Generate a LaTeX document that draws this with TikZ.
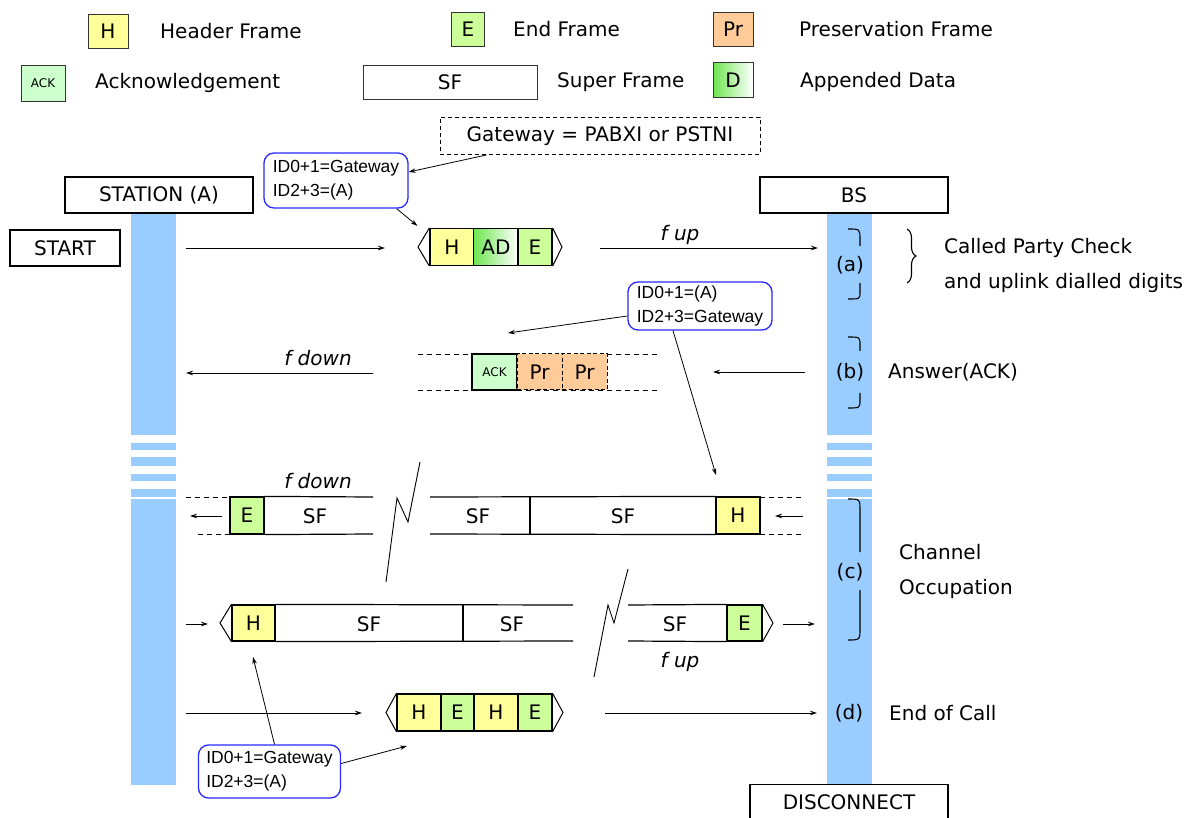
\documentclass[tikz,border=0pt]{standalone}
\usepackage{fontspec}
\setmainfont{DejaVu Sans}
\newfontfamily\idfont{Liberation Sans}
\usetikzlibrary{arrows.meta,decorations.pathreplacing,shapes.misc}
\definecolor{yel}{RGB}{255,255,153}
\definecolor{grn}{RGB}{204,255,153}
\definecolor{ackc}{RGB}{204,255,204}
\definecolor{org}{RGB}{255,204,153}
\definecolor{barc}{RGB}{153,204,255}
\definecolor{dgrn}{RGB}{110,230,80}
\definecolor{idblue}{RGB}{40,40,255}
\tikzset{
  lbl/.style={font=\fontsize{20}{23}\selectfont, inner sep=0pt},
  itl/.style={font=\fontsize{20}{23}\selectfont\itshape, inner sep=0pt},
  cell/.style={draw, line width=1.2pt, inner sep=0pt, minimum height=37pt, font=\fontsize{20}{23}\selectfont},
  lgcell/.style={draw=black!80, line width=0.8pt, inner sep=0pt, font=\fontsize{20}{23}\selectfont},
  titlebox/.style={draw, line width=1.1pt, inner sep=0pt, minimum height=36pt, font=\fontsize{20}{23}\selectfont},
  idbox/.style={draw=idblue, line width=1.3pt, rounded corners=10pt, inner sep=0pt, align=left, font=\idfont\fontsize{17.5}{24}\selectfont},
  arr/.style={line width=0.8pt, -{Stealth[length=7pt,width=4.5pt]}},
  fline/.style={line width=1.2pt},
  dline/.style={line width=0.9pt, dash pattern=on 5pt off 4pt},
  brk/.style={line width=1.1pt},
  bar/.style={fill=barc},
}
\begin{document}
\begin{tikzpicture}[x=1pt,y=-1pt]
\clip (0,0) rectangle (1187,818);
\fill[white] (0,0) rectangle (1187,818);

% ---------- legend ----------
\node[lgcell, fill=yel, minimum width=40pt, minimum height=34pt] (lgH) at (108,31) {H};
\node[lbl, anchor=west] (lgHt) at (160,31) {Header Frame};
\node[lgcell, fill=grn, minimum width=33pt, minimum height=34pt] (lgE) at (468,29) {E};
\node[lbl, anchor=west] (lgEt) at (513,29) {End Frame};
\node[lgcell, fill=org, minimum width=40pt, minimum height=34pt] (lgP) at (733,29) {Pr};
\node[lbl, anchor=west] (lgPt) at (799,29) {Preservation Frame};
\node[lgcell, fill=ackc, minimum width=44pt, minimum height=36pt, font=\fontsize{12}{14}\selectfont] (lgA) at (43,83) {ACK};
\node[lbl, anchor=west] (lgAt) at (95,83) {Acknowledgement};
\node[lgcell, minimum width=174pt, minimum height=34pt] (lgS) at (450,82) {SF};
\node[lbl, anchor=west] (lgSt) at (557,82) {Super Frame};
\node[lgcell, left color=dgrn, right color=white, minimum width=40pt, minimum height=35pt] (lgD) at (733,80) {D};
\node[lbl, anchor=west] (lgDt) at (800,82) {Appended Data};

% ---------- life lines ----------
\fill[bar] (131,213) rectangle (176,435);
\fill[bar] (131,443) rectangle (176,450);
\fill[bar] (131,457) rectangle (176,466);
\fill[bar] (131,474) rectangle (176,481);
\fill[bar] (131,489) rectangle (176,497);
\fill[bar] (131,499) rectangle (176,785);
\fill[bar] (827,213) rectangle (872,435);
\fill[bar] (827,443) rectangle (872,450);
\fill[bar] (827,457) rectangle (872,466);
\fill[bar] (827,474) rectangle (872,481);
\fill[bar] (827,489) rectangle (872,497);
\fill[bar] (827,499) rectangle (872,784);

\node[titlebox, fill=white, minimum width=188pt] (st) at (159,195) {STATION (A)};
\node[titlebox, fill=white, minimum width=188pt] (bs) at (854,195) {BS};
\node[titlebox, fill=white, minimum width=110pt] (start) at (65,248) {START};
\node[titlebox, fill=white, minimum width=198pt, minimum height=42pt, anchor=north] (disc) at (849,784) {};
\node[lbl] (disct) at (849,802) {DISCONNECT};

% ---------- gateway note ----------
\node[draw, line width=0.9pt, dash pattern=on 4pt off 3pt, minimum width=320pt, minimum height=37pt, lbl] (gw) at (600,136) {Gateway = PABXI or PSTNI};
\node[idbox, minimum width=144pt, minimum height=55pt] (id1) at (336,180.5) {ID0+1=Gateway\\ID2+3=(A)};
\draw[arr] ([xshift=47pt]gw.south west) -- ([yshift=8.5pt]id1.east);

% ---------- row a ----------
\node[cell, fill=yel, minimum width=44pt] (a1) at (452,247) {H};
\node[cell, left color=dgrn, right color=white, minimum width=45pt] (a2) at (496,247) {AD};
\node[cell, fill=grn, minimum width=34pt] (a3) at (535,247) {E};
\draw[line width=1pt] (a1.north west) -- (418,247) -- (a1.south west);
\draw[line width=1pt] (a3.north east) -- (562,247) -- (a3.south east);
\draw[arr] ([xshift=-12pt]id1.south east) -- ([xshift=-12pt,yshift=2pt]a1.north west);
\coordinate (a0) at (186,248);
\coordinate (a4) at (385,248);
\draw[arr] (a0) -- (a4);
\coordinate (a5) at (600,248);
\coordinate (a6) at (818,248);
\draw[arr] (a5) -- (a6);
\node[itl] (fup1) at (680,235) {f up};
\draw[brk] (848,229) .. controls (860,229) .. (860,240) -- (860,246);
\draw[brk] (860,283) -- (860,292) .. controls (860,299) .. (848,299);
\node[lbl] (la) at (850,265) {(a)};
\draw[brk, decorate, decoration={brace, amplitude=9pt}] (907,229) -- (907,283);
\node[lbl, anchor=west] (cpc) at (944,248) {Called Party Check};
\node[lbl, anchor=west] (uld) at (944,283) {and uplink dialled digits};

% ---------- row b ----------
\node[idbox, minimum width=144pt, minimum height=48pt] (id2) at (700,306) {ID0+1=(A)\\ID2+3=Gateway};
\coordinate (b7) at (508,333);
\draw[arr] ([yshift=-10pt]id2.west) -- (b7);
\coordinate (b8) at (716,475);
\draw[arr] ([xshift=-27pt]id2.south) -- (b8);
\draw[dline] (418,354) -- (658,354);
\draw[dline] (418,390) -- (658,390);
\node[cell, fill=ackc, minimum width=45pt, minimum height=36pt, font=\fontsize{12}{14}\selectfont] (b1) at (494.5,372) {ACK};
\node[cell, fill=org, dash pattern=on 4pt off 2.5pt, line width=1pt, minimum width=45pt, minimum height=36pt] (b2) at (539.5,372) {Pr};
\node[cell, fill=org, dash pattern=on 4pt off 2.5pt, line width=1pt, minimum width=45pt, minimum height=36pt] (b3) at (584.5,372) {Pr};
\coordinate (b5) at (373,373);
\coordinate (b6) at (186,373);
\draw[arr] (b5) -- (b6);
\node[itl] (fdn1) at (318,358) {f down};
\coordinate (b9) at (805,372);
\coordinate (b10) at (713,372);
\draw[arr] (b9) -- (b10);
\draw[brk] (848,337) .. controls (860,337) .. (860,345) -- (860,351);
\draw[brk] (860,393) -- (860,400) .. controls (860,408) .. (848,408);
\node[lbl] (lb) at (850,372) {(b)};
\node[lbl, anchor=west] (ans) at (888,372) {Answer(ACK)};

% ---------- row c1 (down) ----------
\draw[dline] (186,497) -- (230,497);
\draw[dline] (198,534) -- (230,534);
\draw[dline] (760,497) -- (803,497);
\draw[dline] (760,534) -- (803,534);
\node[cell, fill=grn, minimum width=34pt] (c1e) at (247,515.5) {E};
\draw[fline] (c1e.north east) -- (373,497);
\draw[fline] (c1e.south east) -- (373,534);
\node[lbl] (c1s1) at (315,516) {SF};
\draw[line width=0.9pt] (420,462) -- (408,522) -- (397,498) -- (386,582);
\node[cell, fill=yel, minimum width=44pt] (c1h) at (738,515.5) {H};
\draw[fline] (430,497) -- (c1h.north west);
\draw[fline] (430,534) -- (c1h.south west);
\draw[fline] (530,497) -- (530,534);
\node[lbl] (c1s2) at (478,516) {SF};
\node[lbl] (c1s3) at (623,516) {SF};
\coordinate (c1l0) at (222,516);
\coordinate (c1l1) at (190,516);
\draw[arr] (c1l0) -- (c1l1);
\coordinate (c1r0) at (803,516);
\coordinate (c1r1) at (775,516);
\draw[arr] (c1r0) -- (c1r1);
\node[itl] (fdn2) at (318,481) {f down};

% ---------- row c2 (up) ----------
\node[cell, fill=yel, minimum width=43pt, minimum height=36pt] (c2h) at (253.5,623) {H};
\draw[line width=1pt] (c2h.north west) -- (220,623) -- (c2h.south west);
\draw[fline] (c2h.north east) -- (573,605);
\draw[fline] (c2h.south east) -- (573,641);
\draw[fline] (463,605) -- (463,641);
\node[lbl] (c2s1) at (369,624) {SF};
\node[lbl] (c2s2) at (512,624) {SF};
\draw[line width=0.9pt] (628,569) -- (614,623) -- (608,605) -- (594,677);
\node[cell, fill=grn, minimum width=35pt, minimum height=36pt] (c2e) at (744.5,623) {E};
\draw[line width=1pt] (c2e.north east) -- (773,623) -- (c2e.south east);
\draw[fline] (628,605) -- (c2e.north west);
\draw[fline] (628,641) -- (c2e.south west);
\node[lbl] (c2s3) at (675,624) {SF};
\coordinate (c2l0) at (186,624);
\coordinate (c2l1) at (208,624);
\draw[arr] (c2l0) -- (c2l1);
\coordinate (c2r0) at (783,624);
\coordinate (c2r1) at (815,624);
\draw[arr] (c2r0) -- (c2r1);
\node[itl] (fup2) at (680,662) {f up};
\draw[brk] (848,499) .. controls (860,499) .. (860,511) -- (860,552);
\draw[brk] (860,590) -- (860,628) .. controls (860,640) .. (848,640);
\node[lbl] (lc) at (850,572) {(c)};
\node[lbl, anchor=west] (chn) at (899,552) {Channel};
\node[lbl, anchor=west] (occ) at (899,589) {Occupation};

% ---------- row d ----------
\node[cell, fill=yel, minimum width=44pt] (d1) at (419,712.5) {H};
\node[cell, fill=grn, minimum width=33pt] (d2) at (457.5,712.5) {E};
\node[cell, fill=yel, minimum width=44pt] (d3) at (496,712.5) {H};
\node[cell, fill=grn, minimum width=34pt] (d4) at (535,712.5) {E};
\draw[line width=1pt] (d1.north west) -- (386,712.5) -- (d1.south west);
\draw[line width=1pt] (d4.north east) -- (563,712.5) -- (d4.south east);
\coordinate (d0) at (186,713);
\coordinate (d5) at (362,713);
\draw[arr] (d0) -- (d5);
\coordinate (d6) at (605,713);
\coordinate (d7) at (817,713);
\draw[arr] (d6) -- (d7);
\node[lbl] (ld) at (849,713) {(d)};
\node[lbl, anchor=west] (eoc) at (889,713) {End of Call};

\node[idbox, minimum width=142pt, minimum height=53pt] (id3) at (269.5,771.5) {ID0+1=Gateway\\ID2+3=(A)};
\coordinate (id3t) at (253,657);
\draw[arr] ([xshift=5pt]id3.north) -- (id3t);
\coordinate (id3r) at (407,746);
\draw[arr] ([yshift=8pt]id3.east) -- (id3r);
\end{tikzpicture}
\end{document}
